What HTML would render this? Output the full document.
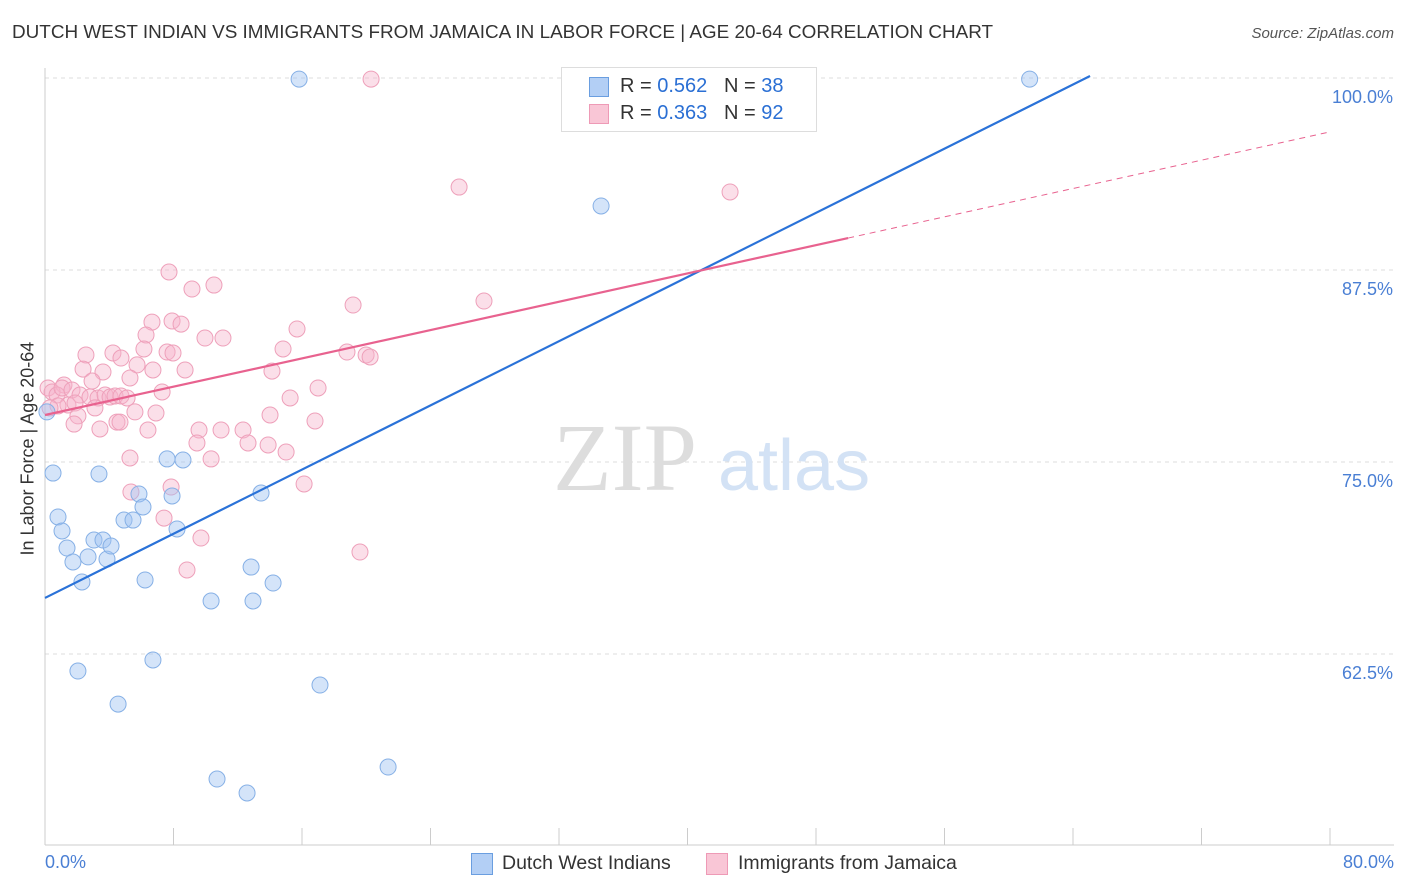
<!DOCTYPE html>
<html><head><meta charset="utf-8"><style>
body{margin:0;background:#fff;font-family:"Liberation Sans",sans-serif;}
#wrap{position:relative;width:1406px;height:892px;overflow:hidden;}
.t{position:absolute;white-space:nowrap;}
</style></head><body>
<div id="wrap">
<div class="t" style="left:12px;top:22px;font-size:18.9px;color:#333;">DUTCH WEST INDIAN VS IMMIGRANTS FROM JAMAICA IN LABOR FORCE | AGE 20-64 CORRELATION CHART</div>
<div class="t" style="right:12px;top:25px;font-size:15px;color:#555;font-style:italic;">Source: ZipAtlas.com</div>
<svg id="svg" width="1406" height="892" style="position:absolute;left:0;top:0"></svg>
</div>
<script>
const xTicksVals=[0,8,16,24,32,40,48,56,64,72,80];
const yTickVals=[100,87.5,75,62.5];
const yTickLabels=["100.0%","87.5%","75.0%","62.5%"];
const blueX=[15.82,61.3,34.62,0.12,0.5,3.36,0.81,1.06,1.37,1.74,2.3,2.68,3.05,3.61,3.86,4.11,4.92,5.48,5.85,6.1,6.23,6.72,7.6,7.91,8.22,8.59,10.34,10.71,12.58,12.83,12.95,13.45,14.2,17.12,21.36,2.05,4.55];
const blueY=[99.93,99.93,91.67,78.26,74.28,74.22,71.42,70.51,69.4,68.49,67.19,68.82,69.92,69.92,68.68,69.53,71.22,71.22,72.92,72.07,67.32,62.11,75.2,72.79,70.64,75.13,65.95,54.36,53.45,68.16,65.95,72.98,67.12,60.48,55.14,61.39,59.24];
const pinkX=[20.3,25.78,42.65,7.72,10.52,9.15,19.18,27.33,6.66,7.91,8.47,15.69,6.29,9.96,11.08,6.16,7.6,7.97,2.55,4.23,4.73,14.82,18.8,19.99,20.24,2.37,3.61,5.73,6.72,8.72,14.13,1.18,2.93,5.29,7.29,17.0,0.19,0.44,0.75,1.06,1.68,2.18,2.8,3.3,3.74,4.05,4.36,4.73,5.11,1.43,1.87,0.81,0.31,3.11,5.6,6.91,15.26,14.01,16.81,2.05,1.81,3.42,4.48,4.67,6.41,9.59,10.96,12.33,12.64,9.46,13.89,15.01,5.29,10.34,16.13,5.35,7.85,7.41,9.71,8.84,19.61];
const pinkY=[99.93,92.9,92.58,87.37,86.52,86.26,85.22,85.48,84.11,84.18,83.98,83.66,83.27,83.07,83.07,82.36,82.16,82.1,81.97,82.1,81.77,82.36,82.16,81.97,81.84,81.05,80.86,81.32,80.99,80.99,80.92,80.01,80.27,80.47,79.56,79.82,79.82,79.56,79.36,79.82,79.69,79.36,79.23,79.17,79.36,79.23,79.3,79.3,79.17,78.71,78.84,78.65,78.52,78.52,78.26,78.19,79.17,78.06,77.67,78.0,77.47,77.15,77.6,77.6,77.08,77.08,77.08,77.08,76.24,76.24,76.11,75.65,75.26,75.2,73.57,73.05,73.37,71.35,70.05,67.97,69.14];
const blueLine=[66.15,0.5223];
const pinkLine=[78.06,0.2304];
const pinkSolidEnd=50;
const blueEnd=65.06;
const NS="http://www.w3.org/2000/svg";
const svg=document.getElementById('svg');
function X(v){return 45+v*1285/80;}
function Y(v){return 78+(100-v)*15.36;}
function mk(tag,attrs,parent){const e=document.createElementNS(NS,tag);for(const k in attrs)e.setAttribute(k,attrs[k]);(parent||svg).appendChild(e);return e;}
yTickVals.forEach((v,i)=>{
 const g=mk('line',{x1:45,x2:1394,y1:Y(v),y2:Y(v),stroke:'#ddd','stroke-dasharray':'4,4'});
 
 
 const t=mk('text',{x:1393,y:Y(v)+25,'text-anchor':'end','font-size':18,fill:'#4a7fd4','font-family':'Liberation Sans, sans-serif'});
 t.textContent=yTickLabels[i];
 
 
});
mk('line',{x1:45,x2:45,y1:68,y2:845,stroke:'#ccc'});
mk('line',{x1:45,x2:1394,y1:845,y2:845,stroke:'#ccc'});
xTicksVals.forEach(v=>{
 const l=mk('line',{x1:X(v),x2:X(v),y1:828,y2:845,stroke:'#ccc'});
 
 
});
const wm=mk('text',{x:553,y:490,'font-size':96,fill:'#ddd','font-family':'Liberation Serif, serif'});wm.textContent='ZIP';


const wm2=mk('text',{x:718,y:490,'font-size':72,fill:'#d3e2f5','font-family':'Liberation Sans, sans-serif'});wm2.textContent='atlas';


function pts(xs,ys,fill,stroke,name){xs.forEach((x,i)=>{
 const c=mk('circle',{cx:X(x),cy:Y(ys[i]),r:8,fill:fill,stroke:stroke,'stroke-width':1});
 
 
});}
pts(pinkX,pinkY,'rgba(246,178,202,0.42)','#eea0ba','jamaica-point');
pts(blueX,blueY,'rgba(160,196,242,0.45)','#86b0e6','dutch-west-indian-point');
const bl=mk('line',{x1:X(0),y1:Y(blueLine[0]),x2:X(blueEnd),y2:Y(blueLine[0]+blueLine[1]*blueEnd),stroke:'#2a72d8','stroke-width':2.2});


const pl=mk('line',{x1:X(0),y1:Y(pinkLine[0]),x2:X(pinkSolidEnd),y2:Y(pinkLine[0]+pinkLine[1]*pinkSolidEnd),stroke:'#e8628f','stroke-width':2.2});


const pd=mk('line',{x1:X(pinkSolidEnd),y1:Y(pinkLine[0]+pinkLine[1]*pinkSolidEnd),x2:X(80),y2:Y(pinkLine[0]+pinkLine[1]*80),stroke:'#e8628f','stroke-width':1,'stroke-dasharray':'6,5'});


</script>
<div class="t" style="left:45px;top:852px;font-size:18px;color:#4a7fd4;">0.0%</div>
<div class="t" style="right:12px;top:852px;font-size:18px;color:#4a7fd4;">80.0%</div>
<div class="t" style="left:-72px;top:445px;font-size:18px;color:#333;transform:rotate(-90deg);transform-origin:center;width:200px;text-align:center;">In Labor Force | Age 20-64</div>
<div style="position:absolute;left:561px;top:67px;width:254px;height:63px;border:1px solid #ddd;background:#fff;">
 <div style="position:absolute;left:27px;top:9px;width:18px;height:18px;background:#b3cff5;border:1px solid #6a9ee0;"></div>
 <div class="t" style="left:58px;top:7px;font-size:20px;color:#333;">R = <span style="color:#2a6fd4">0.562</span>&nbsp;&nbsp;&nbsp;N = <span style="color:#2a6fd4">38</span></div>
 <div style="position:absolute;left:27px;top:36px;width:18px;height:18px;background:#f9c6d6;border:1px solid #ee9ab6;"></div>
 <div class="t" style="left:58px;top:34px;font-size:20px;color:#333;">R = <span style="color:#2a6fd4">0.363</span>&nbsp;&nbsp;&nbsp;N = <span style="color:#2a6fd4">92</span></div>
</div>
<div style="position:absolute;left:471px;top:853px;width:20px;height:20px;background:#b3cff5;border:1px solid #6a9ee0;"></div>
<div class="t" style="left:502px;top:852px;font-size:19.5px;color:#333;">Dutch West Indians</div>
<div style="position:absolute;left:706px;top:853px;width:20px;height:20px;background:#f9c6d6;border:1px solid #ee9ab6;"></div>
<div class="t" style="left:738px;top:852px;font-size:19.5px;color:#333;">Immigrants from Jamaica</div>
</body></html>
